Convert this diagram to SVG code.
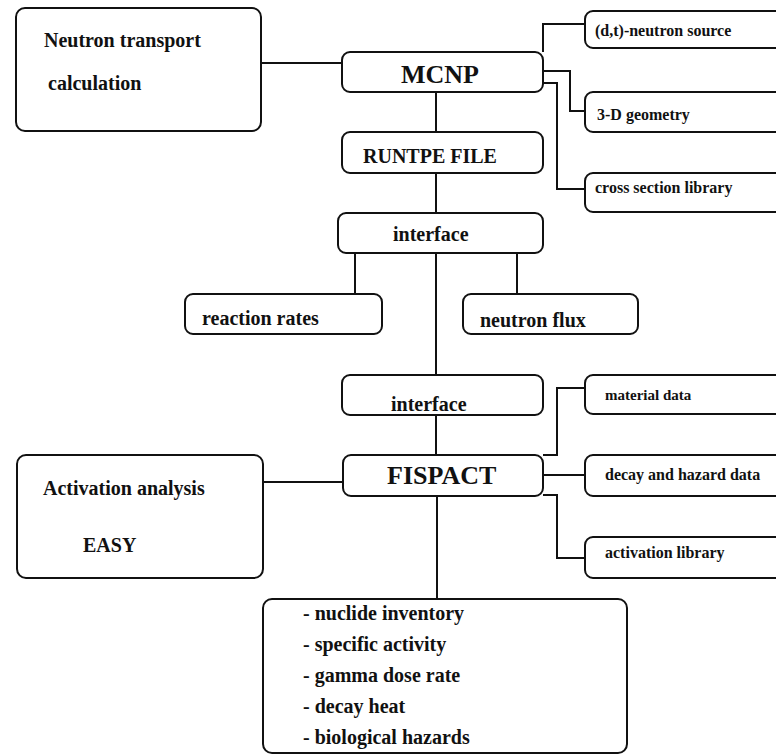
<svg xmlns="http://www.w3.org/2000/svg" width="776" height="755" viewBox="0 0 776 755">
  <style>
    .box { fill: #fff; stroke: #111; stroke-width: 2; }
    .wire { fill: none; stroke: #111; stroke-width: 2; }
    text { font-family: "Liberation Serif", "Times New Roman", serif; font-weight: bold; fill: #111; }
    .big { font-size: 26px; }
    .mid { font-size: 20px; }
    .small { font-size: 16px; }
  </style>
  <rect width="776" height="755" fill="#fff"/>

  <!-- connectors -->
  <g id="connectors">
    <path class="wire" d="M261,63 H342"/>
    <path class="wire" d="M436,92 V132"/>
    <path class="wire" d="M436,173 V213"/>
    <path class="wire" d="M543,52 V24 H585"/>
    <path class="wire" d="M543,71 H570 V111 H585"/>
    <path class="wire" d="M543,83 H557 V189 H585"/>
    <path class="wire" d="M355,253 V294"/>
    <path class="wire" d="M517,253 V294"/>
    <path class="wire" d="M436,253 V375"/>
    <path class="wire" d="M436,415 V455"/>
    <path class="wire" d="M263,482 H343"/>
    <path class="wire" d="M543,455 H557 V388 H585"/>
    <path class="wire" d="M543,475 H585"/>
    <path class="wire" d="M543,495 H557 V558 H585"/>
    <path class="wire" d="M437,496 V599"/>
  </g>

  <g id="neutron-transport">
    <rect class="box" x="16" y="8" width="245" height="123" rx="9"/>
    <text class="mid" x="44" y="47">Neutron transport</text>
    <text class="mid" x="48" y="90">calculation</text>
  </g>

  <g id="mcnp">
    <rect class="box" x="342" y="52" width="201" height="40" rx="8"/>
    <text class="big" x="440" y="83" text-anchor="middle">MCNP</text>
  </g>

  <g id="runtpe">
    <rect class="box" x="342" y="132" width="201" height="41" rx="8"/>
    <text class="mid" x="363" y="163">RUNTPE FILE</text>
  </g>

  <g id="dt-source">
    <rect class="box" x="585" y="11" width="215" height="37" rx="8"/>
    <text class="small" x="595" y="36">(d,t)-neutron source</text>
  </g>

  <g id="geometry">
    <rect class="box" x="585" y="92" width="215" height="40" rx="8"/>
    <text class="small" x="597" y="120">3-D geometry</text>
  </g>

  <g id="cross-section">
    <rect class="box" x="585" y="173" width="215" height="39" rx="8"/>
    <text class="small" x="595" y="193">cross section library</text>
  </g>

  <g id="interface-1">
    <rect class="box" x="338" y="213" width="205" height="40" rx="8"/>
    <text class="mid" x="393" y="241">interface</text>
  </g>

  <g id="reaction-rates">
    <rect class="box" x="185" y="294" width="197" height="40" rx="8"/>
    <text class="mid" x="202" y="325">reaction rates</text>
  </g>

  <g id="neutron-flux">
    <rect class="box" x="463" y="294" width="175" height="40" rx="8"/>
    <text class="mid" x="480" y="327">neutron flux</text>
  </g>

  <g id="interface-2">
    <rect class="box" x="342" y="375" width="201" height="40" rx="8"/>
    <text class="mid" x="391" y="411">interface</text>
  </g>

  <g id="material-data">
    <rect class="box" x="585" y="375" width="215" height="39" rx="8"/>
    <text class="small" x="605" y="400" style="font-size:15px">material  data</text>
  </g>

  <g id="fispact">
    <rect class="box" x="343" y="455" width="200" height="41" rx="8"/>
    <text class="big" x="387" y="484">FISPACT</text>
  </g>

  <g id="decay-hazard">
    <rect class="box" x="585" y="455" width="215" height="41" rx="8"/>
    <text class="small" x="605" y="480">decay and hazard data</text>
  </g>

  <g id="activation-library">
    <rect class="box" x="585" y="537" width="215" height="41" rx="8"/>
    <text class="small" x="605" y="558">activation library</text>
  </g>

  <g id="activation-analysis">
    <rect class="box" x="17" y="455" width="246" height="123" rx="9"/>
    <text class="mid" x="43" y="495">Activation analysis</text>
    <text class="mid" x="83" y="552">EASY</text>
  </g>

  <g id="results">
    <rect class="box" x="263" y="599" width="364" height="154" rx="9"/>
    <text class="mid" x="303" y="620">- nuclide inventory</text>
    <text class="mid" x="303" y="651">- specific activity</text>
    <text class="mid" x="303" y="682">- gamma dose rate</text>
    <text class="mid" x="303" y="713">- decay heat</text>
    <text class="mid" x="303" y="744">- biological hazards</text>
  </g>
</svg>
